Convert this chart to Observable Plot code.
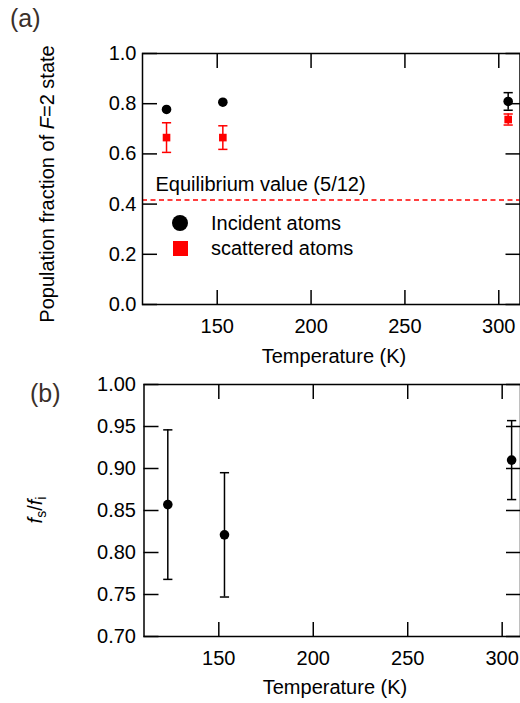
<!DOCTYPE html>
<html><head><meta charset="utf-8">
<script src="https://cdn.jsdelivr.net/npm/d3@7"></script>
<script src="https://cdn.jsdelivr.net/npm/@observablehq/plot@0.6"></script>
<style>
body{margin:0;background:#fff;}
#chart{position:relative;width:520px;height:703px;overflow:hidden;font-family:"Liberation Sans",Arial,sans-serif;color:#000;}
#chart svg{position:absolute;left:0;}
.legend{position:absolute;left:0;top:0;font-size:20px;}
.legend .row{position:absolute;white-space:nowrap;height:20px;line-height:20px;}
</style></head><body><div id="chart"></div>
<script>
// ---- data ----
const temperatures = [123, 153, 305];
const incidentFraction = [0.777, 0.806, 0.809];
const incidentError = [0, 0, 0.035];
const scatteredFraction = [0.665, 0.665, 0.737];
const scatteredError = [0.059, 0.047, 0.022];
const ratioValue = [0.857, 0.821, 0.910];
const ratioError = [0.089, 0.074, 0.047];
const equilibriumValue = 5 / 12;
const equilibriumLabel = "Equilibrium value (5/12)";
const seriesNames = ["Incident atoms", "scattered atoms"];
const xTicks = [150, 200, 250, 300];
const yTicksA = [0, 0.2, 0.4, 0.6, 0.8, 1.0];
const yTicksB = [0.70, 0.75, 0.80, 0.85, 0.90, 0.95, 1.00];
const xLabel = "Temperature (K)";

const FONT = '"Liberation Sans", Arial, sans-serif';
const RED = "#ff0000";

const incident = temperatures.map((t, i) => ({t, v: incidentFraction[i], e: incidentError[i]}));
const scattered = temperatures.map((t, i) => ({t, v: scatteredFraction[i], e: scatteredError[i]}));
const ratio = temperatures.map((t, i) => ({t, v: ratioValue[i], e: ratioError[i]}));

const hline = {draw(ctx, size) { const r = Math.sqrt(size / Math.PI); ctx.moveTo(-r, 0); ctx.lineTo(r, 0); }};

function errorMarks(data, color) {
  const d = data.filter(p => p.e > 0);
  return [
    Plot.ruleX(d, {x: "t", y1: p => p.v - p.e, y2: p => p.v + p.e, stroke: color, strokeWidth: 1.5}),
    Plot.dot(d, {x: "t", y: p => p.v + p.e, symbol: hline, r: 4.6, stroke: color, fill: "none", strokeWidth: 1.5}),
    Plot.dot(d, {x: "t", y: p => p.v - p.e, symbol: hline, r: 4.6, stroke: color, fill: "none", strokeWidth: 1.5})
  ];
}

function frameAxes(yTicks, yFmt, yPad) {
  const tk = {strokeWidth: 1.5, tickFormat: () => "", label: null};
  return [
    Plot.axisX({ticks: xTicks, anchor: "bottom", tickSize: 0, tickPadding: 14, label: null}),
    Plot.axisX({ticks: xTicks, anchor: "bottom", tickSize: -14, ...tk}),
    Plot.axisX({ticks: xTicks, anchor: "top", tickSize: -14, ...tk}),
    Plot.axisY({ticks: yTicks, anchor: "left", tickSize: 0, tickPadding: yPad, tickFormat: yFmt, label: null}),
    Plot.axisY({ticks: yTicks, anchor: "left", tickSize: -15, ...tk}),
    Plot.axisY({ticks: yTicks, anchor: "right", tickSize: -15, ...tk}),
    Plot.frame({stroke: "#000", strokeWidth: 1.5})
  ];
}

const style = {fontFamily: FONT, fontSize: "20px", color: "#000", background: "transparent", overflow: "visible"};

// ---- panel (a) ----
const plotA = Plot.plot({
  width: 520, height: 370,
  marginLeft: 142, marginRight: 0.5, marginTop: 53, marginBottom: 66,
  x: {domain: [110.2, 311.3]},
  y: {domain: [0, 1]},
  style,
  marks: [
    Plot.ruleY([equilibriumValue], {stroke: RED, strokeWidth: 1.5, strokeDasharray: "5,3.5"}),
    Plot.text([{label: equilibriumLabel, v: equilibriumValue}], {text: "label", y: "v", frameAnchor: "left", textAnchor: "start", dx: 13, dy: -15, fontSize: 20}),
    ...errorMarks(incident, "#000"),
    ...errorMarks(scattered, RED),
    Plot.dot(incident, {x: "t", y: "v", r: 4.8, fill: "#000", stroke: "none"}),
    Plot.dot(scattered, {x: "t", y: "v", symbol: "square", r: 4.3, fill: RED, stroke: "none"}),
    ...frameAxes(yTicksA, d => d.toFixed(1), 6)
  ]
});

// ---- panel (b) ----
const plotB = Plot.plot({
  width: 520, height: 333,
  marginLeft: 143.5, marginRight: 0, marginTop: 14, marginBottom: 67,
  x: {domain: [110.4, 309.7]},
  y: {domain: [0.70, 1.00]},
  style,
  marks: [
    ...errorMarks(ratio, "#000"),
    Plot.dot(ratio, {x: "t", y: "v", r: 4.8, fill: "#000", stroke: "none"}),
    ...frameAxes(yTicksB, d => d.toFixed(2), 8)
  ]
});

const chart = document.getElementById("chart");
plotA.style.top = "0px";
plotB.style.top = "370px";
chart.appendChild(plotA);
chart.appendChild(plotB);

// axis titles and panel letters
function addText(svg, x, y, opts) {
  return d3.select(svg).append("text")
    .attr("x", x).attr("y", y)
    .attr("font-family", FONT).attr("font-size", opts.size || 20)
    .attr("fill", opts.fill || "#000")
    .attr("text-anchor", opts.anchor || "middle");
}
addText(plotA, 334, 363, {}).text(xLabel);
addText(plotB, 335, 324, {}).text(xLabel);
addText(plotA, 10, 27, {size: 25, anchor: "start", fill: "#3a302a"}).text("(a)");
addText(plotB, 30, 32, {size: 25, anchor: "start", fill: "#3a302a"}).text("(b)");

const yl = addText(plotA, 0, 0, {}).attr("transform", "translate(54,184) rotate(-90)");
yl.append("tspan").text("Population fraction of ");
yl.append("tspan").attr("font-style", "italic").text("F");
yl.append("tspan").text("=2 state");

const yr = addText(plotB, 0, 0, {}).attr("transform", "translate(42,140) rotate(-90)");
yr.append("tspan").attr("font-style", "italic").text("f");
yr.append("tspan").attr("font-size", 14).attr("dy", 4).text("s");
yr.append("tspan").attr("dy", -4).text("/");
yr.append("tspan").attr("font-style", "italic").text("f");
yr.append("tspan").attr("font-size", 14).attr("dy", 4).text("i");

// legend (panel a)
const legend = d3.select(chart).append("div").attr("class", "legend");
const legendRows = [
  {name: seriesNames[0], color: "#000", radius: "50%", size: 16, top: 213},
  {name: seriesNames[1], color: RED, radius: "0", size: 15, top: 238}
];
legendRows.forEach(r => {
  const row = legend.append("div").attr("class", "row").style("left", "172px").style("top", r.top + "px");
  row.append("span").style("position", "absolute").style("left", (8 - r.size / 2) + "px").style("top", (10 - r.size / 2) + "px")
    .style("width", r.size + "px").style("height", r.size + "px").style("background", r.color).style("border-radius", r.radius);
  row.append("span").style("position", "absolute").style("left", "39px").style("top", "0px").text(r.name);
});
</script>
</body></html>
